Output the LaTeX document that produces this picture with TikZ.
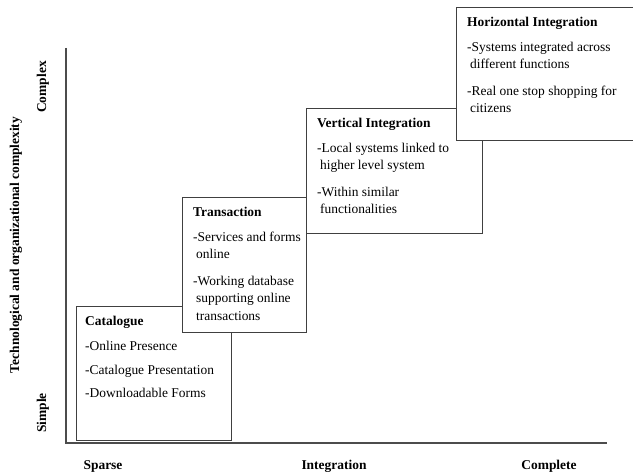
\documentclass[tikz,border=0pt]{standalone}
\usepackage{fontspec}
\setmainfont{Liberation Serif}
\usepackage{tikz}
\usetikzlibrary{positioning}
\tikzset{
  stagebox/.style  = {rectangle, draw=black!75, fill=white, line width=0.8pt,
                      anchor=north west, inner sep=0pt},
  stagetext/.style = {anchor=north west, align=left, inner sep=0pt,
                      font=\fontsize{13.5}{17.5}\selectfont},
  axislbl/.style   = {font=\fontsize{13.5}{15}\selectfont\bfseries, inner sep=0pt},
  axisline/.style  = {draw=black!70, line width=1.2pt},
}

\begin{document}
\begin{tikzpicture}[x=1bp, y=1bp]
  \useasboundingbox (0,0) rectangle (633,-475);

  % axes
  \coordinate (top) at (66,-48);
  \coordinate (orig) at (66,-443);
  \coordinate (xend) at (607,-443);
  \draw[axisline] (top) -- (orig) -- (xend);

  \node[axislbl] (sparse) at (103,-466) {Sparse};
  \node[axislbl] (integ) at (334,-466) {Integration};
  \node[axislbl] (compl) at (549,-466) {Complete};
  \node[axislbl, rotate=90] (simple) at (43,-413) {Simple};
  \node[axislbl, rotate=90] (complex) at (43,-87) {Complex};
  \node[axislbl, rotate=90] (ytitle) at (16,-245)
    {Technological and organizational complexity};

  % stage 1
  \node[stagebox, minimum width=156, minimum height=134] (cat) at (76,-306) {};
  \node[stagetext] (cattxt) at ([shift={(9,-10)}]cat.north west)
    {\textbf{Catalogue}\\[8pt]
     -Online Presence\\[6pt]
     -Catalogue Presentation\\[6pt]
     -Downloadable Forms};

  % stage 2
  \node[stagebox, minimum width=124, minimum height=136] (trans) at (182,-197) {};
  \node[stagetext] (transtxt) at ([shift={(11,-9.5)}]trans.north west)
    {\textbf{Transaction}\\[8pt]
     -Services and forms\\
     \hspace{3pt}online\\[9pt]
     -Working database\\
     \hspace{3pt}supporting online\\
     \hspace{3pt}transactions};

  % stage 3
  \node[stagebox, minimum width=177, minimum height=125] (vert) at (306,-108) {};
  \node[stagetext] (verttxt) at ([shift={(11,-9.5)}]vert.north west)
    {\textbf{Vertical Integration}\\[8pt]
     -Local systems linked to\\
     \hspace{3pt}higher level system\\[9pt]
     -Within similar\\
     \hspace{3pt}functionalities};

  % stage 4
  \node[stagebox, minimum width=190, minimum height=133] (horiz) at (456,-7) {};
  \node[stagetext] (horiztxt) at ([shift={(11,-9.5)}]horiz.north west)
    {\textbf{Horizontal Integration}\\[8pt]
     -Systems integrated across\\
     \hspace{3pt}different functions\\[9pt]
     -Real one stop shopping for\\
     \hspace{3pt}citizens};
\end{tikzpicture}
\end{document}
